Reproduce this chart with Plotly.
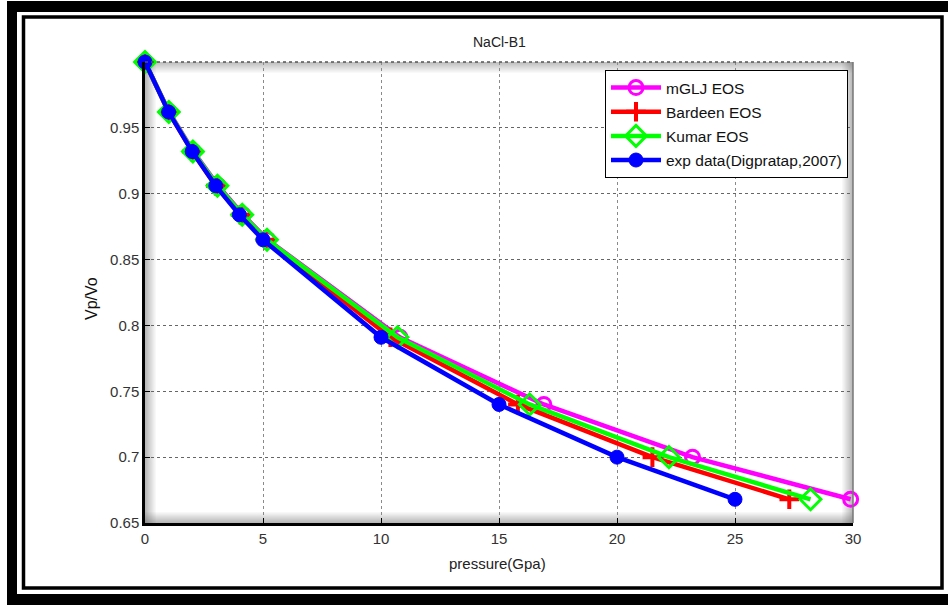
import plotly.graph_objects as go

# ---------------- data ----------------
v_ratio = [1.0, 0.962, 0.932, 0.906, 0.884, 0.865, 0.791, 0.740, 0.700, 0.668]
p_mglj = [0, 1.02, 2.05, 3.1, 4.15, 5.2, 10.8, 16.9, 23.2, 29.9]
p_bardeen = [0, 1.0, 2.0, 3.0, 4.05, 5.1, 10.4, 15.8, 21.5, 27.3]
p_kumar = [0, 1.01, 2.03, 3.07, 4.12, 5.17, 10.7, 16.3, 22.2, 28.2]
p_exp = [0, 1, 2, 3, 4, 5, 10, 15, 20, 25]

x_ticks = [0, 5, 10, 15, 20, 25, 30]
y_ticks = [0.65, 0.7, 0.75, 0.8, 0.85, 0.9, 0.95]
y_ticktext = ["0.65", "0.7", "0.75", "0.8", "0.85", "0.9", "0.95"]

# ---------------- layout geometry ----------------
W, H = 948, 605
L, R, T, B = 145, 853, 62, 523


def px(x):
    return (x - L) / (R - L)


def py(y):
    return (B - y) / (B - T)


FONT = "Liberation Sans, Arial, sans-serif"

fig = go.Figure()

series = [
    ("mGLJ EOS", p_mglj, "#FF00FF", dict(symbol="circle-open", size=14, line=dict(width=3, color="#FF00FF"))),
    ("Bardeen EOS", p_bardeen, "#FF0000", dict(symbol="cross-thin", size=14, line=dict(width=4, color="#FF0000"))),
    ("Kumar EOS", p_kumar, "#00FF00", dict(symbol="diamond-open", size=16, line=dict(width=3, color="#00FF00"))),
    ("exp data(Digpratap,2007)", p_exp, "#0000FF", dict(symbol="circle", size=14, line=dict(width=1, color="#0000FF"))),
]

for i, (name, p, col, mk) in enumerate(series):
    fig.add_trace(go.Scatter(
        x=p, y=v_ratio, mode="lines+markers", name=name,
        line=dict(color=col, width=4.5),
        marker=dict(color=col, **mk),
        cliponaxis=False, legendgroup=f"g{i}",
    ))

shapes = []


def rect(x0, y0, x1, y1, fill=None, line=None, layer="above", opacity=1):
    d = dict(type="rect", xref="paper", yref="paper",
             x0=px(x0), x1=px(x1), y0=py(y1), y1=py(y0), layer=layer, opacity=opacity)
    if fill:
        d["fillcolor"] = fill
    if line:
        d["line"] = line
    else:
        d["line"] = dict(width=0)
    shapes.append(d)


# outer black frame pieces
rect(7, 1, 948, 12, fill="black")
rect(7, 1, 17, 605, fill="black")
rect(7, 594, 948, 605, fill="black")
# inner thin frame
rect(23.5, 17, 942, 588, line=dict(color="black", width=3.5))

# bevel shadows inside plot area
n = 11
for k in range(n):
    a = 0.42 * (1 - k / n)
    rect(L + k, T, L + k + 1, B, fill="#555555", layer="below", opacity=a)
    rect(L, B - k - 1, R, B - k, fill="#555555", layer="below", opacity=a)
    rect(L, T + k, R, T + k + 1, fill="#555555", layer="below", opacity=a * 0.9)
    rect(R - k - 1, T, R - k, B, fill="#555555", layer="below", opacity=a)

# top and right borders
shapes.append(dict(type="line", xref="paper", yref="paper", x0=0, x1=1, y0=1, y1=1,
                   line=dict(color="#555555", width=1.5, dash="dot")))
shapes.append(dict(type="line", xref="paper", yref="paper", x0=1, x1=1, y0=0, y1=1,
                   line=dict(color="#777777", width=1.5)))

annotations = [
    dict(text="NaCl-B1", x=0.5, y=py(42), xref="paper", yref="paper", showarrow=False,
         font=dict(family=FONT, size=14, color="#222222"), xanchor="center", yanchor="middle"),
    dict(text="Vp/Vo", x=px(91), y=py(299), xref="paper", yref="paper", showarrow=False,
         textangle=-90, font=dict(family=FONT, size=16, color="#111111"), xanchor="center", yanchor="middle"),
    dict(text="pressure(Gpa)", x=px(497), y=py(563), xref="paper", yref="paper", showarrow=False,
         font=dict(family=FONT, size=15, color="#222222"), xanchor="center", yanchor="middle"),
]

fig.update_layout(
    width=W, height=H,
    margin=dict(l=L, r=W - R, t=T, b=H - B),
    paper_bgcolor="white", plot_bgcolor="white",
    showlegend=True,
    legend=dict(
        x=px(848), y=py(70), xanchor="right", yanchor="top",
        bgcolor="white", bordercolor="black", borderwidth=1,
        font=dict(family=FONT, size=15.5, color="#111111"),
        itemwidth=50, tracegroupgap=1,
    ),
    shapes=shapes,
    annotations=annotations,
    xaxis=dict(
        range=[0, 30], tickvals=x_ticks, ticks="inside", ticklen=5, tickcolor="black",
        showline=True, linecolor="black", linewidth=2.5,
        showgrid=True, gridcolor="#8a8a8a", griddash="dot", gridwidth=1,
        zeroline=False, tickfont=dict(family=FONT, size=15, color="#333333"),
    ),
    yaxis=dict(
        range=[0.65, 1.0], tickvals=y_ticks, ticktext=y_ticktext, ticks="inside", ticklen=5,
        tickcolor="black", showline=True, linecolor="black", linewidth=2.5,
        showgrid=True, gridcolor="#666666", griddash="dot", gridwidth=1,
        zeroline=False, tickfont=dict(family=FONT, size=15, color="#333333"),
    ),
)

fig.write_html("out.html")
